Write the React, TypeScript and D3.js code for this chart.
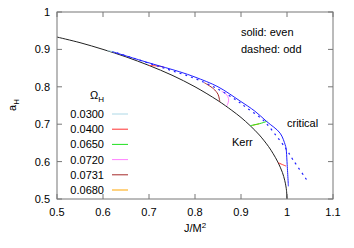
import * as d3 from "d3";

type Pt = [number, number];

// Kerr: a_H vs J/M^2
const kerr: Pt[] = [
  [0.5, 0.933], [0.55, 0.918], [0.6, 0.9], [0.65, 0.88], [0.7, 0.857],
  [0.75, 0.831], [0.8, 0.8], [0.85, 0.763], [0.88, 0.737], [0.9, 0.718],
  [0.92, 0.696], [0.94, 0.671], [0.96, 0.64], [0.97, 0.621], [0.98, 0.599],
  [0.99, 0.571], [0.995, 0.55], [0.9975, 0.535], [0.999, 0.522], [1.0, 0.5],
];

// critical line, even (solid)
const criticalEven: Pt[] = [
  [0.62, 0.894], [0.7, 0.864], [0.767, 0.84], [0.8, 0.826], [0.85, 0.8],
  [0.898, 0.762], [0.93, 0.735], [0.956, 0.707], [0.985, 0.676],
  [0.996, 0.645], [0.998, 0.635], [1.0, 0.6], [1.003, 0.534],
];

// critical line, odd (dashed)
const criticalOdd: Pt[] = [
  [0.63, 0.891], [0.7, 0.863], [0.75, 0.843], [0.8, 0.822], [0.85, 0.794],
  [0.89, 0.764], [0.912, 0.744], [0.948, 0.711], [0.978, 0.667],
  [0.999, 0.632], [1.013, 0.605], [1.043, 0.551],
];

const omegaLabels = ["0.0300", "0.0400", "0.0650", "0.0720", "0.0731", "0.0680"];
const omegaColors = ["#add8e6", "#ff3030", "#20e020", "#ff80ff", "#a52a2a", "#ffa500"];

const om0300: Pt[][] = [[[0.61, 0.897], [0.625, 0.893]]];
const om0400: Pt[][] = [
  [[0.7, 0.857], [0.715, 0.856], [0.732, 0.853]],
  [[0.981, 0.597], [0.99, 0.592], [0.998, 0.588]],
];
const om0650: Pt[][] = [[[0.92, 0.696], [0.935, 0.7], [0.945, 0.703], [0.957, 0.708]]];
const om0720: Pt[][] = [[[0.858, 0.788], [0.868, 0.78], [0.873, 0.768], [0.872, 0.757], [0.869, 0.749]]];
const om0731: Pt[][] = [[[0.82, 0.811], [0.84, 0.795], [0.85, 0.78], [0.853, 0.767], [0.854, 0.761]]];
const om0680: Pt[][] = [[[0.925, 0.697], [0.94, 0.701]]];
// draw order: orange below green
const omegaSeries = [om0300, om0400, om0680, om0650, om0720, om0731];
const omegaSeriesColors = ["#add8e6", "#ff3030", "#ffa500", "#20e020", "#ff80ff", "#a52a2a"];

const xTicks = [0.5, 0.6, 0.7, 0.8, 0.9, 1, 1.1];
const yTicks = [0.5, 0.6, 0.7, 0.8, 0.9, 1];

export default function App() {
  const width = 354;
  const height = 248;
  const pad = { top: 12, right: 21, bottom: 49, left: 57 };
  const innerW = width - pad.left - pad.right;
  const innerH = height - pad.top - pad.bottom;

  const x = d3.scaleLinear().domain([0.5, 1.1]).range([pad.left, pad.left + innerW]);
  const y = d3.scaleLinear().domain([0.5, 1]).range([pad.top + innerH, pad.top]);

  const line = d3
    .line<Pt>()
    .x((d) => x(d[0]))
    .y((d) => y(d[1]))
    .curve(d3.curveCatmullRom.alpha(0.5));

  const font = "Liberation Sans, Arial, sans-serif";
  const frame = "#777";
  const tl = 5;

  return (
    <div style={{ position: "absolute", left: 0, top: 0 }}>
      <svg width={width} height={height} style={{ display: "block", background: "#fff" }} fontFamily={font}>
        <defs>
          <clipPath id="plot">
            <rect x={pad.left} y={pad.top} width={innerW} height={innerH} />
          </clipPath>
        </defs>

        {xTicks.map((t) => (
          <g key={"x" + t}>
            <line x1={x(t)} x2={x(t)} y1={pad.top + innerH} y2={pad.top + innerH - tl} stroke={frame} />
            <line x1={x(t)} x2={x(t)} y1={pad.top} y2={pad.top + tl} stroke={frame} />
            <text x={x(t)} y={pad.top + innerH + 17} fontSize="11" textAnchor="middle" fill="#000">
              {t === 1 ? "1" : t.toFixed(1)}
            </text>
          </g>
        ))}
        {yTicks.map((t) => (
          <g key={"y" + t}>
            <line x1={pad.left} x2={pad.left + tl} y1={y(t)} y2={y(t)} stroke={frame} />
            <line x1={pad.left + innerW} x2={pad.left + innerW - tl} y1={y(t)} y2={y(t)} stroke={frame} />
            <text x={pad.left - 7} y={y(t) + 4} fontSize="11" textAnchor="end" fill="#000">
              {t === 1 ? "1" : t.toFixed(1)}
            </text>
          </g>
        ))}

        <g clipPath="url(#plot)" fill="none">
          <path d={line(kerr) ?? ""} stroke="#222" strokeWidth="1" />
          {omegaSeries.map((segs, i) =>
            segs.map((s, j) => (
              <path key={i + "-" + j} d={line(s) ?? ""} stroke={omegaSeriesColors[i]} strokeWidth="1" />
            ))
          )}
          <path d={line(criticalOdd) ?? ""} stroke="#2020ff" strokeWidth="1.2" strokeDasharray="2,4" />
          <path d={line(criticalEven) ?? ""} stroke="#2020ff" strokeWidth="1" />
        </g>

        <rect x={pad.left} y={pad.top} width={innerW} height={innerH} fill="none" stroke={frame} />

        <text x={241} y={36} fontSize="11" fill="#000">solid: even</text>
        <text x={241} y={53} fontSize="11" fill="#000">dashed: odd</text>
        <text x={287} y={127} fontSize="11" fill="#000">critical</text>
        <text x={232} y={146} fontSize="11" fill="#000">Kerr</text>

        <text x={90} y={99} fontSize="11" fill="#000">
          Ω<tspan fontSize="8" dy="3">H</tspan>
        </text>
        {omegaLabels.map((lab, i) => {
          const yy = 114 + i * 15.2;
          return (
            <g key={lab}>
              <text x={104} y={yy + 4} fontSize="11" textAnchor="end" fill="#000">{lab}</text>
              <line x1={112} x2={128} y1={yy} y2={yy} stroke={omegaColors[i]} strokeWidth="1" />
            </g>
          );
        })}

        <text x={195} y={232} fontSize="11" textAnchor="middle" fill="#000">
          J/M<tspan fontSize="8" dy="-4">2</tspan>
        </text>
        <text transform="translate(16,105) rotate(-90)" fontSize="11" textAnchor="middle" fill="#000">
          a<tspan fontSize="8" dy="3">H</tspan>
        </text>
      </svg>
    </div>
  );
}
